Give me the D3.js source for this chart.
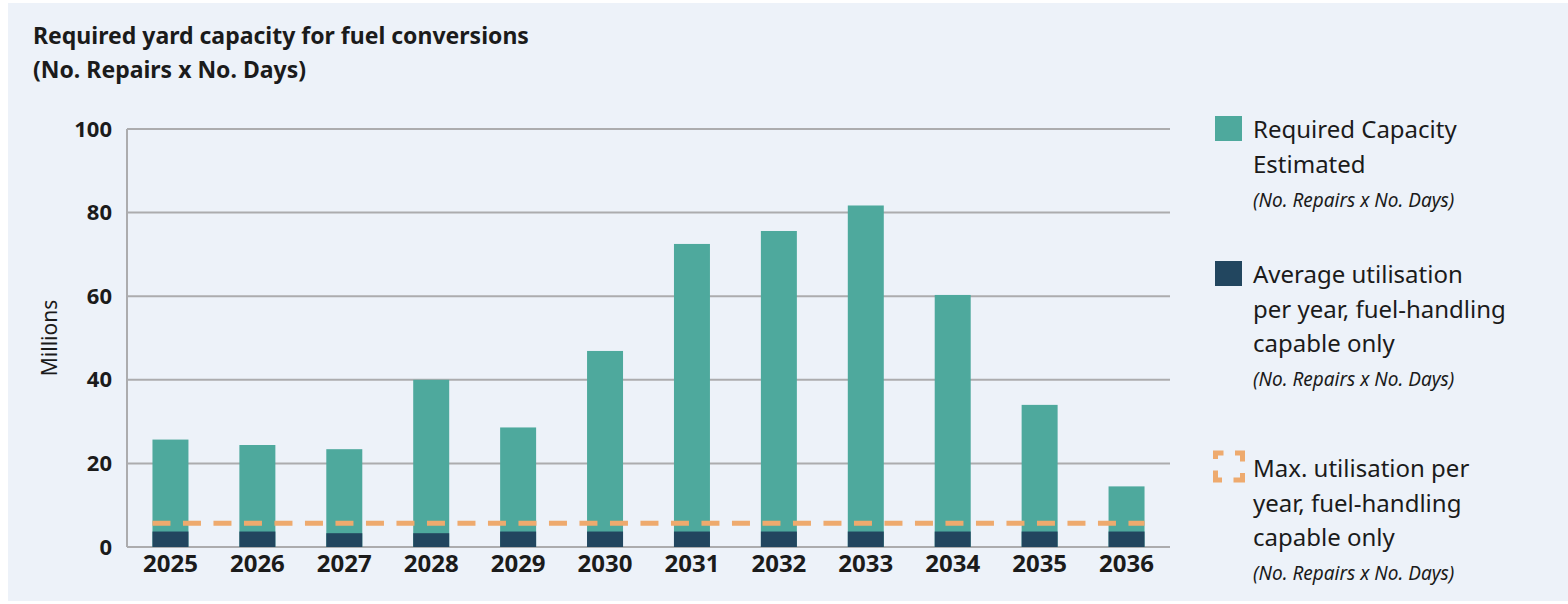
<!DOCTYPE html>
<html>
<head>
<meta charset="utf-8">
<script src="https://cdn.jsdelivr.net/npm/d3@7"></script>
<style>
  body { margin: 0; background: #ffffff; }
  text { font-family: "Noto Sans", sans-serif; fill: #1b1b1b; }
</style>
</head>
<body>
<div id="chart"></div>
<script>
// Data
const years = ["2025", "2026", "2027", "2028", "2029", "2030", "2031", "2032", "2033", "2034", "2035", "2036"];
const requiredCapacity = [25.7, 24.4, 23.4, 40.0, 28.6, 46.9, 72.5, 75.6, 81.7, 60.3, 34.0, 14.5];
const avgUtilisation = [3.7, 3.7, 3.3, 3.3, 3.7, 3.7, 3.7, 3.7, 3.7, 3.7, 3.7, 3.7];
const maxUtilisation = 5.7;
const yTicks = [0, 20, 40, 60, 80, 100];

const titleLines = ["Required yard capacity for fuel conversions", "(No. Repairs x No. Days)"];
const legendItems = [
  { key: "required", lines: ["Required Capacity", "Estimated"], note: "(No. Repairs x No. Days)" },
  { key: "avg", lines: ["Average utilisation", "per year, fuel-handling", "capable only"], note: "(No. Repairs x No. Days)" },
  { key: "max", lines: ["Max. utilisation per", "year, fuel-handling", "capable only"], note: "(No. Repairs x No. Days)" }
];

// Colours
const teal = "#4ea99d";
const navy = "#22465f";
const orange = "#eeaa6e";
const grid = "#acacae";
const font = "'Noto Sans', sans-serif";

// Dimensions
const width = 1568;
const height = 604;
const margin = { top: 129, right: 398, bottom: 57, left: 127 };

const svg = d3.select("#chart")
  .append("svg")
  .attr("width", width)
  .attr("height", height);

// Panel background
svg.append("rect")
  .attr("x", 8)
  .attr("y", 3)
  .attr("width", width - 8)
  .attr("height", 598)
  .attr("fill", "#edf2f9");

// Title
svg.append("g")
  .selectAll("text")
  .data(titleLines)
  .enter()
  .append("text")
  .attr("x", 33)
  .attr("y", (d, i) => 44 + i * 34)
  .attr("font-size", "23px")
  .attr("font-weight", 700)
  .text(d => d);

// Scales
const x = d3.scaleBand()
  .domain(years)
  .range([margin.left, width - margin.right])
  .paddingInner(0.586)
  .paddingOuter(0.293);

const y = d3.scaleLinear()
  .domain([0, 100])
  .range([height - margin.bottom, margin.top]);

// Gridlines
svg.append("g")
  .selectAll("line")
  .data(yTicks)
  .enter()
  .append("line")
  .attr("x1", margin.left)
  .attr("x2", width - margin.right)
  .attr("y1", d => y(d))
  .attr("y2", d => y(d))
  .attr("stroke", grid)
  .attr("stroke-width", 2);

// Left axis line
svg.append("line")
  .attr("x1", margin.left)
  .attr("x2", margin.left)
  .attr("y1", y(100))
  .attr("y2", y(0))
  .attr("stroke", grid)
  .attr("stroke-width", 2);

// Y axis labels
const yAxis = svg.append("g")
  .attr("transform", `translate(${margin.left}, 0)`)
  .call(d3.axisLeft(y).tickValues(yTicks).tickSize(0).tickPadding(15));
yAxis.select(".domain").remove();
yAxis.selectAll("text")
  .attr("font-size", "22px")
  .attr("font-weight", 700)
  .attr("font-family", font)
  .attr("fill", "#1b1b1b");

// Y axis title
svg.append("text")
  .attr("transform", `translate(57, ${y(50)}) rotate(-90)`)
  .attr("text-anchor", "middle")
  .attr("font-size", "21px")
  .text("Millions");

// X axis labels
const xAxis = svg.append("g")
  .attr("transform", `translate(0, ${y(0)})`)
  .call(d3.axisBottom(x).tickSize(0).tickPadding(8));
xAxis.select(".domain").remove();
xAxis.selectAll("text")
  .attr("font-size", "24px")
  .attr("font-weight", 700)
  .attr("font-family", font)
  .attr("fill", "#1b1b1b");

// Required capacity bars
svg.append("g")
  .selectAll("rect")
  .data(years)
  .enter()
  .append("rect")
  .attr("x", d => x(d))
  .attr("y", (d, i) => y(requiredCapacity[i]))
  .attr("width", x.bandwidth())
  .attr("height", (d, i) => y(0) - y(requiredCapacity[i]))
  .attr("fill", teal);

// Average utilisation bars
svg.append("g")
  .selectAll("rect")
  .data(years)
  .enter()
  .append("rect")
  .attr("x", d => x(d))
  .attr("y", (d, i) => y(avgUtilisation[i]))
  .attr("width", x.bandwidth())
  .attr("height", (d, i) => y(0) - y(avgUtilisation[i]))
  .attr("fill", navy);

// Max utilisation dashed line
svg.append("line")
  .attr("x1", x(years[0]))
  .attr("x2", x(years[years.length - 1]) + x.bandwidth())
  .attr("y1", y(maxUtilisation))
  .attr("y2", y(maxUtilisation))
  .attr("stroke", orange)
  .attr("stroke-width", 5)
  .attr("stroke-dasharray", "18 12.5");

// Legend
const legendTop = [116, 261, 452];
const legend = svg.append("g");

legendItems.forEach((item, k) => {
  const g = legend.append("g").attr("transform", `translate(1215, ${legendTop[k]})`);

  if (item.key === "max") {
    g.append("rect")
      .attr("x", 0.5)
      .attr("y", 1)
      .attr("width", 27)
      .attr("height", 27)
      .attr("fill", "none")
      .attr("stroke", orange)
      .attr("stroke-width", 5)
      .attr("stroke-dasharray", "8 11.5 8 0");
  } else {
    g.append("rect")
      .attr("width", 27)
      .attr("height", 25)
      .attr("fill", item.key === "required" ? teal : navy);
  }

  const baseY = item.key === "max" ? 25 : 22;
  g.selectAll("text.line")
    .data(item.lines)
    .enter()
    .append("text")
    .attr("class", "line")
    .attr("x", 38)
    .attr("y", (d, i) => baseY + i * 34.5)
    .attr("font-size", "24px")
    .text(d => d);

  g.append("text")
    .attr("x", 38)
    .attr("y", baseY + item.lines.length * 34.5 - 0.5)
    .attr("font-size", "19px")
    .attr("font-style", "italic")
    .text(item.note);
});
</script>
</body>
</html>
